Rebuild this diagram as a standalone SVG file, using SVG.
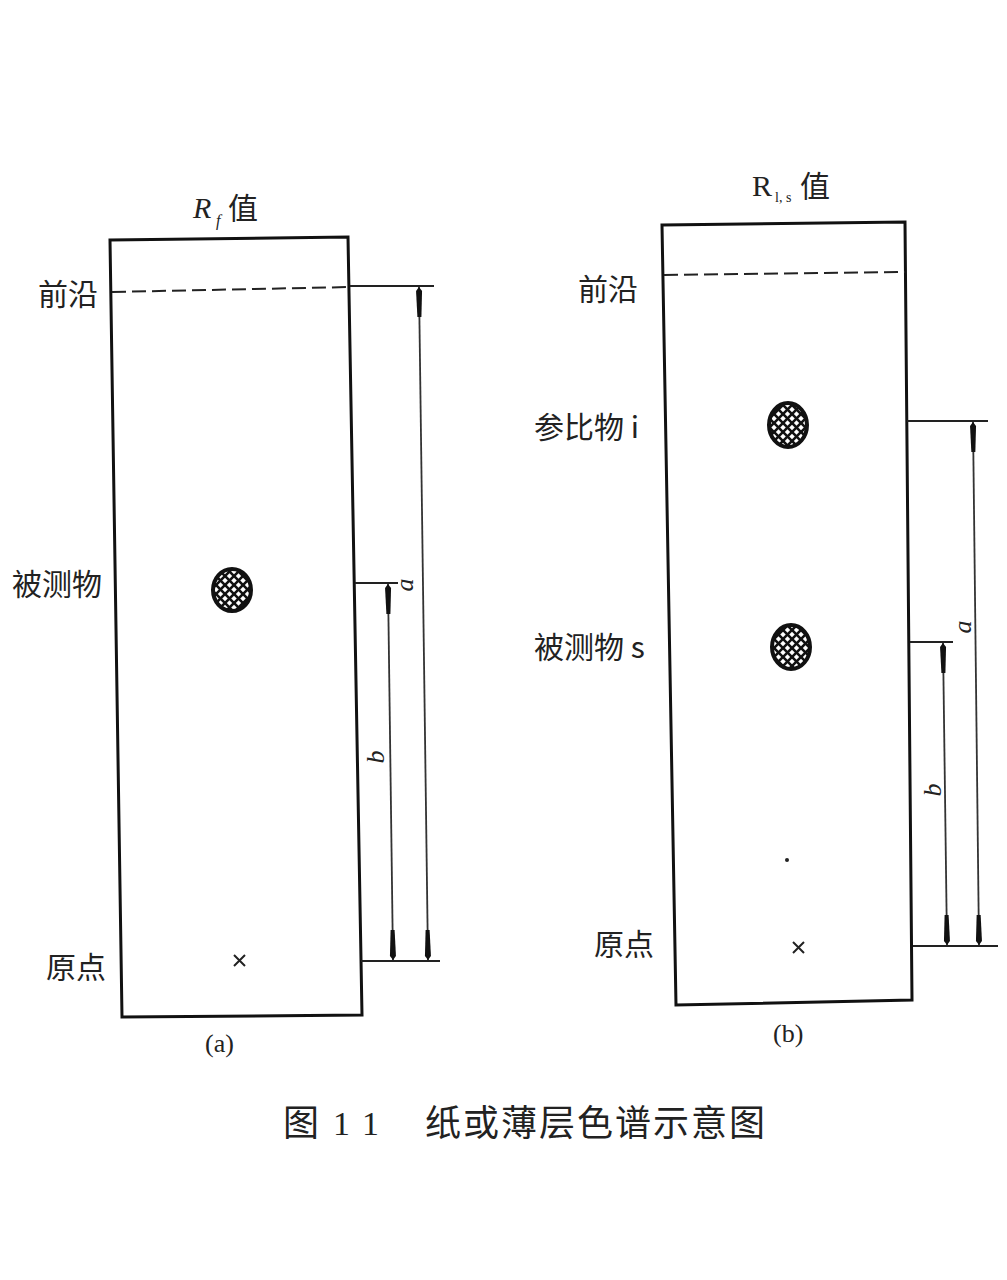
<svg xmlns="http://www.w3.org/2000/svg" width="1007" height="1280" viewBox="0 0 1007 1280">
<defs>
<pattern id="hatch" patternUnits="userSpaceOnUse" width="9" height="9">
<rect width="9" height="9" fill="#fff"/>
<path d="M0,9 L9,0 M-2,2 L2,-2 M7,11 L11,7" stroke="#111" stroke-width="2.6"/>
<path d="M0,0 L9,9 M-2,7 L2,11 M7,-2 L11,2" stroke="#111" stroke-width="2.6"/>
</pattern>
<marker id="arr" viewBox="-30 0 30 8" refX="0" refY="4" markerWidth="30" markerHeight="8" markerUnits="userSpaceOnUse" orient="auto-start-reverse">
<path d="M0,4 L-4,1 L-30,2 L-30,6 L-4,7 Z" fill="#111"/>
</marker>
<style>
.plate{fill:#fff;stroke:#111;stroke-width:3}
.front{stroke:#222;stroke-width:2;stroke-dasharray:14 6;fill:none}
.ext{stroke:#222;stroke-width:2;fill:none}
.dim{stroke:#333;stroke-width:1.8;fill:none}
.spot{fill:url(#hatch);stroke:#111;stroke-width:4}
.lbl{font-family:"Noto Sans CJK SC","Noto Sans",sans-serif;font-size:30px;fill:#222}
.cap{font-family:"Noto Sans CJK SC","Noto Sans",sans-serif;font-size:36px;fill:#222}
.ser{font-family:"Liberation Serif",serif;fill:#222}
.cross{stroke:#222;stroke-width:2}
</style>
</defs>

<g id="panel-a">
<polygon class="plate" points="110,240 348,237 362,1015 122,1017"/>
<line class="front" x1="112" y1="292" x2="350" y2="287"/>
<text class="ser" x="193" y="218" font-size="30" font-style="italic">R</text>
<text class="ser" x="216" y="226" font-size="16" font-style="italic">f</text>
<text class="lbl" x="228" y="219">值</text>
<text class="lbl" x="38" y="305">前沿</text>
<text class="lbl" x="12" y="595">被测物</text>
<text class="lbl" x="46" y="978">原点</text>
<ellipse class="spot" cx="232" cy="590" rx="19" ry="21"/>
<path class="cross" d="M234,955 L245,966 M245,955 L234,966"/>
<text class="ser" x="205" y="1052" font-size="26">(a)</text>
</g>

<g id="panel-b">
<polygon class="plate" points="662,225 905,222 912,1000 676,1005"/>
<line class="front" x1="664" y1="275" x2="905" y2="272"/>
<text class="ser" x="752" y="196" font-size="30">R</text>
<text class="ser" x="775" y="202" font-size="14">l, s</text>
<text class="lbl" x="800" y="197">值</text>
<text class="lbl" x="578" y="300">前沿</text>
<text class="lbl" x="534" y="438">参比物 i</text>
<text class="lbl" x="534" y="658">被测物 s</text>
<text class="lbl" x="594" y="955">原点</text>
<ellipse class="spot" cx="788" cy="425" rx="19" ry="22"/>
<ellipse class="spot" cx="791" cy="647" rx="19" ry="22"/>
<circle cx="787" cy="860" r="2" fill="#222"/>
<path class="cross" d="M793,942 L804,953 M804,942 L793,953"/>
<text class="ser" x="773" y="1042" font-size="26">(b)</text>
</g>

<g id="connectors">
<!-- panel a -->
<line class="ext" x1="350" y1="286" x2="434" y2="286"/>
<line class="ext" x1="355" y1="583" x2="398" y2="583"/>
<line class="ext" x1="361" y1="961" x2="440" y2="961"/>
<line class="dim" x1="419" y1="287" x2="428" y2="960" marker-start="url(#arr)" marker-end="url(#arr)"/>
<line class="dim" x1="388" y1="584" x2="393" y2="960" marker-start="url(#arr)" marker-end="url(#arr)"/>
<text class="ser" font-size="26" font-style="italic" transform="translate(413,585) rotate(-90)" text-anchor="middle">a</text>
<text class="ser" font-size="26" font-style="italic" transform="translate(384,757) rotate(-90)" text-anchor="middle">b</text>
<!-- panel b -->
<line class="ext" x1="907" y1="421" x2="988" y2="421"/>
<line class="ext" x1="910" y1="642" x2="953" y2="642"/>
<line class="ext" x1="913" y1="946" x2="998" y2="946"/>
<line class="dim" x1="973" y1="422" x2="979" y2="945" marker-start="url(#arr)" marker-end="url(#arr)"/>
<line class="dim" x1="943" y1="643" x2="947" y2="945" marker-start="url(#arr)" marker-end="url(#arr)"/>
<text class="ser" font-size="26" font-style="italic" transform="translate(971,627) rotate(-90)" text-anchor="middle">a</text>
<text class="ser" font-size="26" font-style="italic" transform="translate(941,790) rotate(-90)" text-anchor="middle">b</text>
</g>

<g id="caption">
<text class="cap" x="283" y="1136">图</text>
<text class="ser" x="333" y="1135" font-size="34">1</text>
<text class="ser" x="362" y="1135" font-size="34">1</text>
<text class="cap" x="425" y="1136" letter-spacing="2">纸或薄层色谱示意图</text>
</g>
</svg>
